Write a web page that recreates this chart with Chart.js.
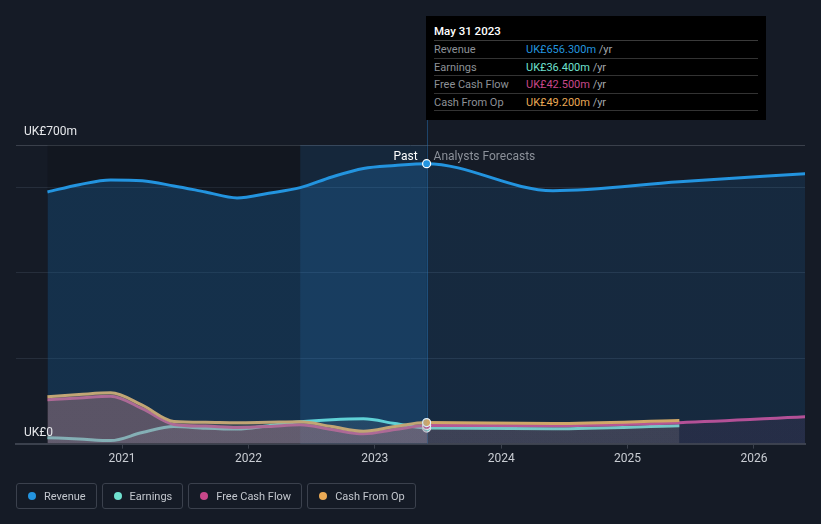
<!DOCTYPE html>
<html>
<head>
<meta charset="utf-8">
<script src="https://cdn.jsdelivr.net/npm/chart.js@4.4.0/dist/chart.umd.min.js"></script>
<style>
  html, body { margin: 0; padding: 0; background: #151b26; }
  body { width: 821px; height: 524px; position: relative; overflow: hidden; font-family: Roboto, "Noto Sans", sans-serif; }
  #chart { position: absolute; left: 0; top: 0; }
  #tip { position: absolute; left: 426px; top: 16px; width: 340px; height: 104px; background: #000; box-sizing: border-box; padding: 8px 8px 0 8px; font-size: 11px; }
  #tip .title { color: #fff; font-size: 11.5px; font-weight: 500; height: 16px; line-height: 14px; border-bottom: 1px solid #3a3a3a; }
  #tip .row { height: 17.5px; line-height: 17px; border-bottom: 1px solid #333; box-sizing: border-box; color: #8d9197; white-space: nowrap; }
  #tip .row span.lab { display: inline-block; width: 92px; }
  #tip .row span.per { color: #a3a7ad; }
  #legend { position: absolute; left: 16px; top: 483px; display: flex; gap: 5px; }
  .item { height: 26px; box-sizing: border-box; border: 1px solid #3b414d; border-radius: 3px; padding: 0 10px 0 11px; display: flex; align-items: center; color: #c3c7ce; font-size: 11px; }
  .item i { width: 8px; height: 8px; border-radius: 50%; display: inline-block; margin-right: 8px; }
</style>
</head>
<body>
<canvas id="chart" width="821" height="524"></canvas>
<div id="tip"></div>
<div id="legend"></div>
<script>
// past (trailing twelve months) values, UK£m
const pastYears = [2020.41, 2020.66, 2020.91, 2021.16, 2021.41, 2021.66, 2021.91, 2022.16, 2022.41, 2022.66, 2022.91, 2023.16, 2023.41];
const revenuePast = [590, 607, 618, 616, 604, 590, 576, 587, 600, 625, 645, 652, 656.3];
const earningsPast = [14, 11, 7, 26, 40, 36, 34, 42, 51, 56, 58, 47, 36.4];
const fcfPast = [103, 107, 111, 82, 45, 41, 38, 40, 44, 33, 23, 33, 42.5];
const cfoPast = [110, 115, 119, 90, 52, 50, 49, 50, 51, 40, 29, 40, 49.2];

// analyst forecasts
const forecastYears = [2024.41, 2025.41, 2026.41];
const revenueFc = [593, 614, 633];
const earningsFc = [35, 42];
const fcfFc = [42, 49, 63];
const cfoFc = [47, 54];

const yearTicks = [2021, 2022, 2023, 2024, 2025, 2026];
const yTicks = [0, 200, 400, 600, 700];
const seriesNames = ['Revenue', 'Earnings', 'Free Cash Flow', 'Cash From Op'];
const seriesColors = ['#2394df', '#6fe0cf', '#c8478a', '#e9a955'];
const tipDate = 'May 31 2023';
const pastEnd = 2023.41;
const highlightStart = 2022.41;

function pts(past, fc) {
  const out = pastYears.map((x, i) => ({ x, y: past[i] }));
  fc.forEach((v, i) => out.push({ x: forecastYears[i], y: v }));
  return out;
}

function splitFill(pastCol, fcCol) {
  return ctx => {
    const chart = ctx.chart;
    const a = chart.chartArea;
    if (!a) return pastCol;
    const p = (chart.scales.x.getPixelForValue(pastEnd) - a.left) / (a.right - a.left);
    const g = chart.ctx.createLinearGradient(a.left, 0, a.right, 0);
    g.addColorStop(0, pastCol);
    g.addColorStop(p, pastCol);
    g.addColorStop(Math.min(1, p + 0.0001), fcCol);
    g.addColorStop(1, fcCol);
    return g;
  };
}

const lastIdx = pastYears.length - 1;
const dot = ctx => ctx.dataIndex === lastIdx ? 4 : 0;

function ds(i, data, fillPast, fillFc) {
  return {
    label: seriesNames[i],
    data,
    borderColor: seriesColors[i],
    borderWidth: 3,
    fill: 'origin',
    backgroundColor: splitFill(fillPast, fillFc),
    cubicInterpolationMode: 'monotone',
    pointRadius: dot,
    pointHoverRadius: 0,
    pointBackgroundColor: seriesColors[i],
    pointBorderColor: '#ffffff',
    pointBorderWidth: 1.2
  };
}

const bands = {
  id: 'bands',
  beforeDatasetsDraw(chart) {
    const { ctx, chartArea: a, scales: { x } } = chart;
    const s0 = x.getPixelForValue(pastYears[0]);
    const h0 = x.getPixelForValue(highlightStart);
    const h1 = x.getPixelForValue(pastEnd);
    ctx.save();
    ctx.fillStyle = 'rgba(0,0,0,0.14)';
    ctx.fillRect(s0, a.top, h0 - s0, a.bottom - a.top);
    ctx.fillStyle = 'rgba(33,150,243,0.10)';
    ctx.fillRect(h0, a.top, h1 - h0, a.bottom - a.top);
    ctx.strokeStyle = 'rgba(40,120,190,0.45)';
    ctx.lineWidth = 1;
    ctx.beginPath();
    ctx.moveTo(Math.round(h1) + 0.5, 120);
    ctx.lineTo(Math.round(h1) + 0.5, a.bottom);
    ctx.stroke();
    ctx.restore();
  },
  afterDraw(chart) {
    const { ctx, chartArea: a, scales: { x, y } } = chart;
    ctx.save();
    ctx.font = '12px Roboto, sans-serif';
    ctx.textBaseline = 'middle';
    ctx.fillStyle = '#e6e8eb';
    ctx.textAlign = 'left';
    ctx.fillText('UK£700m', 24, y.getPixelForValue(700) - 13);
    ctx.fillText('UK£0', 24, y.getPixelForValue(0) - 11);
    const px = x.getPixelForValue(pastEnd);
    ctx.textAlign = 'right';
    ctx.fillStyle = '#ffffff';
    ctx.fillText('Past', px - 9, a.top + 12);
    ctx.textAlign = 'left';
    ctx.fillStyle = '#8b9099';
    ctx.fillText('Analysts Forecasts', px + 7, a.top + 12);
    ctx.restore();
  }
};

new Chart(document.getElementById('chart'), {
  type: 'line',
  data: {
    datasets: [
      ds(0, pts(revenuePast, revenueFc), 'rgba(33,150,243,0.2)', 'rgba(33,150,243,0.12)'),
      ds(3, pts(cfoPast, cfoFc), 'rgba(233,169,90,0.24)', 'rgba(233,169,90,0.07)'),
      ds(2, pts(fcfPast, fcfFc), 'rgba(197,73,139,0.26)', 'rgba(197,73,139,0.1)'),
      ds(1, pts(earningsPast, earningsFc), 'rgba(70,78,88,0.35)', 'rgba(80,90,95,0.25)')
    ]
  },
  options: {
    responsive: false,
    animation: false,
    devicePixelRatio: 1,
    layout: { padding: { left: 16, right: 16, top: 145, bottom: 55 } },
    plugins: { legend: { display: false }, tooltip: { enabled: false } },
    scales: {
      x: {
        type: 'linear',
        min: 2020.161,
        max: 2026.404,
        afterBuildTicks: s => { s.ticks = yearTicks.map(v => ({ value: v })); },
        ticks: { color: '#c9cdd3', font: { size: 12, family: 'Roboto' }, padding: 3, callback: v => String(v) },
        grid: { drawOnChartArea: false, drawTicks: true, tickLength: 5, color: '#3b414d' },
        border: { display: true, color: '#3b414d', width: 2 }
      },
      y: {
        min: 0,
        max: 700,
        afterBuildTicks: s => { s.ticks = yTicks.map(v => ({ value: v })); },
        ticks: { display: false },
        grid: { drawTicks: false, color: c => c.tick && c.tick.value === 700 ? '#3a404b' : '#262e3b' },
        border: { display: false }
      }
    }
  },
  plugins: [bands]
});

// tooltip box for the last reported point
const lastVals = [revenuePast, earningsPast, fcfPast, cfoPast].map(a => a[lastIdx]);
const tip = document.getElementById('tip');
let html = '<div class="title">' + tipDate + '</div>';
seriesNames.forEach((n, i) => {
  html += '<div class="row"><span class="lab">' + n + '</span><span style="color:' + seriesColors[i] + '">UK£' +
    lastVals[i].toFixed(3) + 'm</span> <span class="per">/yr</span></div>';
});
tip.innerHTML = html;

const legend = document.getElementById('legend');
seriesNames.forEach((n, i) => {
  const d = document.createElement('div');
  d.className = 'item';
  d.innerHTML = '<i style="background:' + seriesColors[i] + '"></i>' + n;
  legend.appendChild(d);
});
</script>
</body>
</html>
